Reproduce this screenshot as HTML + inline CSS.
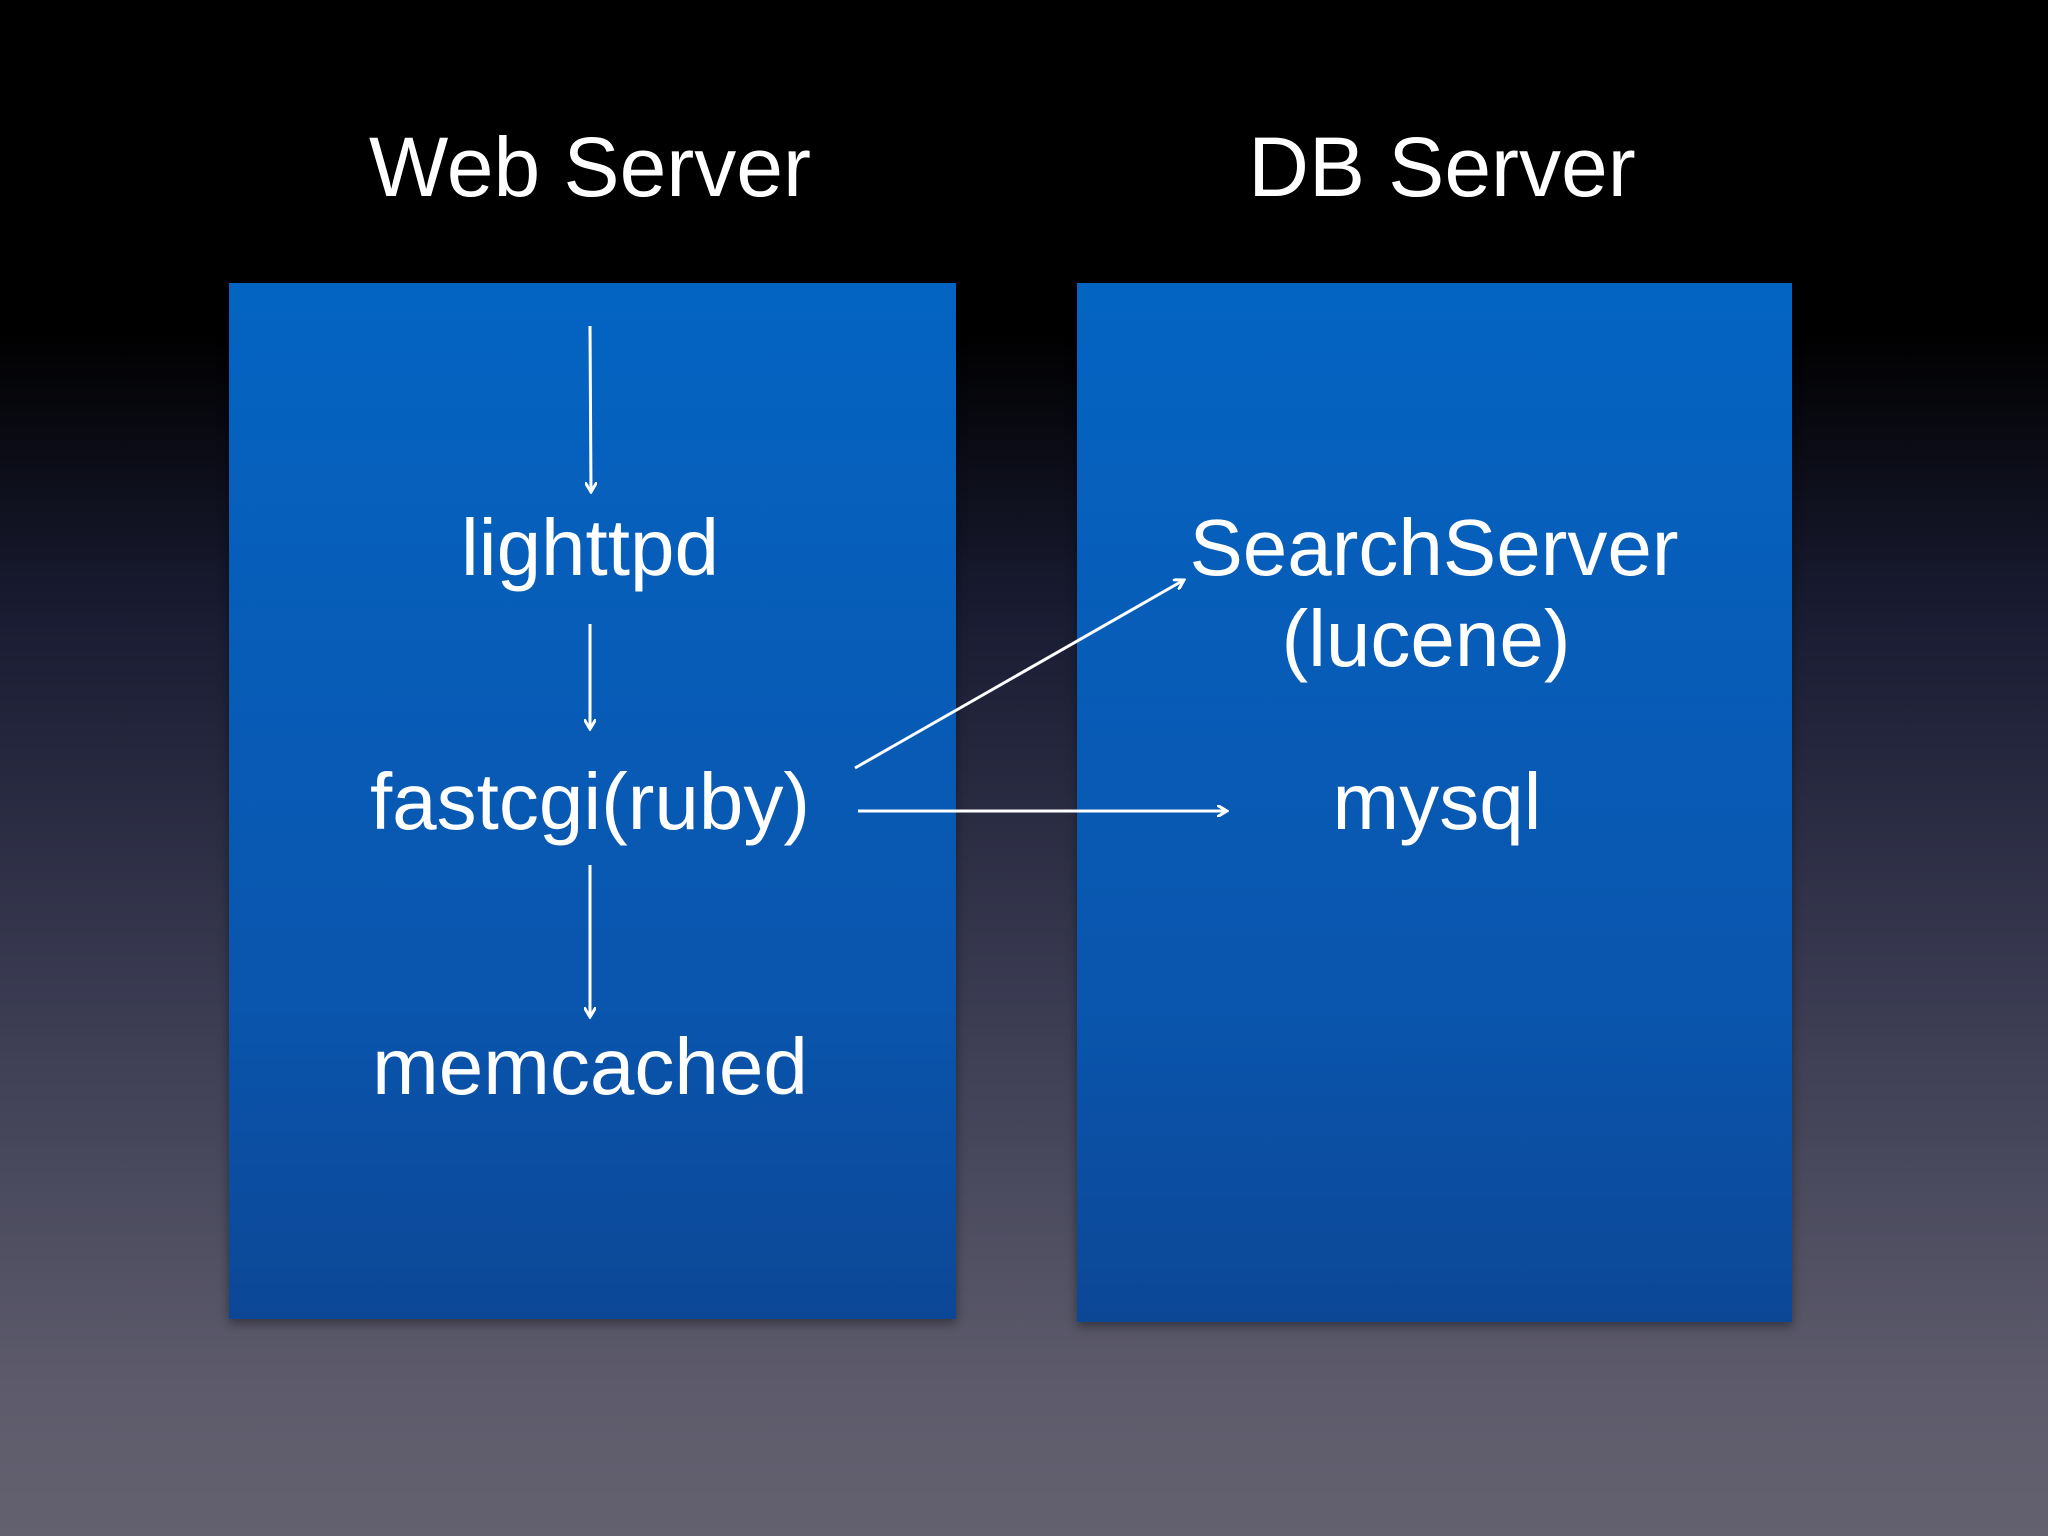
<!DOCTYPE html>
<html><head><meta charset="utf-8"><style>
html,body{margin:0;padding:0}
body{width:2048px;height:1536px;overflow:hidden;position:relative;
background:linear-gradient(to bottom,#000 0px,#000 330px,#1a1c33 620px,#3a3b52 1000px,#5e5c6c 1400px,#63616f 1536px);
font-family:"Liberation Sans",sans-serif;color:#fff}
.box{position:absolute;background:linear-gradient(to bottom,#0464c2,#0a55ad 70%,#0c4796);box-shadow:0 4px 10px rgba(0,0,0,.4)}
.t{position:absolute;transform:translateX(-50%);white-space:nowrap;line-height:1}
</style></head><body>
<div class="box" style="left:229px;top:283px;width:727px;height:1036px"></div>
<div class="box" style="left:1077px;top:283px;width:715px;height:1039px"></div>
<div class="t" style="left:590px;top:125px;font-size:84px">Web Server</div>
<div class="t" style="left:1442px;top:125px;font-size:84px">DB Server</div>
<div class="t" style="left:590px;top:508px;font-size:80px">lighttpd</div>
<div class="t" style="left:590px;top:762px;font-size:80px">fastcgi(ruby)</div>
<div class="t" style="left:590px;top:1027px;font-size:80px">memcached</div>
<div class="t" style="left:1434px;top:508px;font-size:80px">SearchServer</div>
<div class="t" style="left:1426px;top:599px;font-size:80px">(lucene)</div>
<div class="t" style="left:1437px;top:762px;font-size:80px">mysql</div>
<svg width="2048" height="1536" style="position:absolute;left:0;top:0">
<defs><marker id="a" markerWidth="12" markerHeight="12" refX="10" refY="6" orient="auto" markerUnits="userSpaceOnUse">
<path d="M0,0 L10,6 L0,12" fill="none" stroke="#fff" stroke-width="3"/></marker></defs>
<g stroke="#fff" stroke-width="3" fill="none" marker-end="url(#a)">
<line x1="590" y1="326" x2="591" y2="492"/>
<line x1="590" y1="624" x2="590" y2="729"/>
<line x1="590" y1="865" x2="590" y2="1017"/>
<line x1="855" y1="768" x2="1184" y2="580"/>
<line x1="858" y1="811" x2="1227" y2="811"/>
</g></svg>
</body></html>
